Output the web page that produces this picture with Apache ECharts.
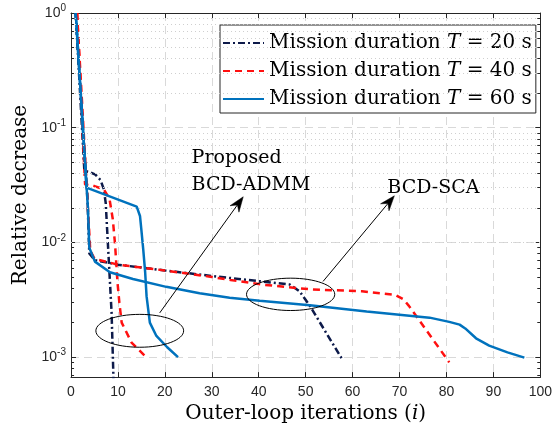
<!DOCTYPE html>
<html><head><meta charset="utf-8">
<script src="https://cdn.jsdelivr.net/npm/echarts@6/dist/echarts.min.js"></script>
<style>html,body{margin:0;padding:0;background:#fff}#c{width:555px;height:429px}</style>
</head><body><div id="c"></div>
<script>
// ---------------- data ----------------
const xTickValues = [0,10,20,30,40,50,60,70,80,90,100];
const yDecades = [0.001, 0.01, 0.1, 1];

// T = 20 s, proposed BCD-ADMM
const t20AdmmX = [1, 2.85, 4, 5.2, 6.3, 7.0, 7.4, 7.9, 8.65, 9.05];
const t20AdmmY = [1, 0.042, 0.041, 0.039, 0.035, 0.029, 0.022, 0.0091, 0.00244, 0.00065];
// T = 20 s, BCD-SCA
const t20ScaX = [1, 3.5, 3.9, 5.1, 10, 20, 30, 40, 46.6, 48.7, 50.9, 57.9];
const t20ScaY = [1, 0.025, 0.008, 0.0070, 0.0064, 0.0057, 0.0051, 0.0046, 0.0043, 0.00375, 0.0028, 0.00094];
// T = 40 s, proposed BCD-ADMM
const t40AdmmX = [1.3, 3.0, 5.0, 7.0, 8.2, 8.9, 9.4, 9.9, 10.3, 10.8, 12.9, 16.0];
const t40AdmmY = [1, 0.032, 0.031, 0.029, 0.024, 0.016, 0.0095, 0.0045, 0.0030, 0.0020, 0.00134, 0.0010];
// T = 40 s, BCD-SCA
const t40ScaX = [1.3, 3.6, 4.1, 5.0, 10, 20, 30, 34, 41, 51, 62, 69, 70.8, 72, 80.6];
const t40ScaY = [1, 0.02, 0.0085, 0.0072, 0.0064, 0.0057, 0.0050, 0.0047, 0.00428, 0.0039, 0.00375, 0.0035, 0.0032, 0.0028, 0.0009];
// T = 60 s, proposed BCD-ADMM
const t60AdmmX = [1, 3.3, 14.0, 14.7, 15.0, 15.4, 15.8, 16.1, 16.8, 18.2, 20.5, 22.8];
const t60AdmmY = [1, 0.030, 0.0205, 0.017, 0.0128, 0.0086, 0.0055, 0.0034, 0.0020, 0.00153, 0.00122, 0.0010];
// T = 60 s, BCD-SCA
const t60ScaX = [1, 3.6, 3.9, 5.1, 8.3, 13.2, 20.3, 27.4, 33.8, 40.2, 50.9, 63, 76.4, 80.6, 82.8, 84, 86.3, 89.1, 93, 96.6];
const t60ScaY = [1, 0.02, 0.009, 0.0068, 0.0055, 0.0048, 0.0041, 0.0036, 0.0033, 0.0031, 0.00283, 0.0025, 0.00221, 0.00203, 0.00192, 0.00178, 0.00146, 0.00126, 0.0011, 0.00099];

const durations = ['20', '40', '60'];
const seriesNames = ['T20', 'T40', 'T60'];

// annotations (data coordinates)
const annotEllipses = [
  {x0: 5.3, x1: 24.0, y0: 0.00122, y1: 0.00236},
  {x0: 37.4, x1: 56.2, y0: 0.00255, y1: 0.00488}
];
const annotArrows = [
  {from: [18.9, 0.00243], to: [36.7, 0.025]},
  {from: [53.7, 0.00457], to: [68.9, 0.0255]}
];
const annotTexts = [
  {x: 25.7, y: 0.0545, text: 'Proposed'},
  {x: 25.7, y: 0.0315, text: 'BCD-ADMM'},
  {x: 67.4, y: 0.030, text: 'BCD-SCA'}
];

// ---------------- chart ----------------
const zip = (xs, ys) => xs.map((x, i) => [x, ys[i]]);
const NAVY = '#0d1a4a', RED = '#ff1010', BLUE = '#0072bd';
const SERIF = '"DejaVu Serif", serif';
const SANS = '"Liberation Sans", Arial, sans-serif';
const AX = '#262626';
const YMIN = 0.00067, YMAX = 1;

// minor grid values 2..9 per decade
const minorVals = [];
for (let d = -4; d <= -1; d++) {
  for (let k = 2; k <= 9; k++) {
    const v = k * Math.pow(10, d);
    if (v > YMIN && v < YMAX) minorVals.push(+v.toPrecision(3));
  }
}

const lineSeries = (name, xs, ys, color, type) => ({
  name, type: 'line', xAxisIndex: 0, yAxisIndex: 0,
  data: zip(xs, ys), symbol: 'none', clip: true, z: 3,
  lineStyle: {color, width: 2.5, type},
  itemStyle: {color},
  animation: false
});
const DASHDOT = [7, 3, 2, 3];
const DASH = [7, 5];

const chart = echarts.init(document.getElementById('c'), null, {renderer: 'canvas'});
const option = {
  animation: false,
  backgroundColor: '#fff',
  grid: {left: 71, right: 14, top: 13, bottom: 47, containLabel: false},
  legend: {
    data: seriesNames,
    orient: 'vertical', left: 220, top: 25,
    padding: [8, 4, 4, 2], itemWidth: 41, itemHeight: 14, itemGap: 8,
    borderColor: AX, borderWidth: 1, backgroundColor: '#fff',
    selectedMode: false,
    itemStyle: {opacity: 0, borderWidth: 0},
    formatter: name => {
      const d = durations[seriesNames.indexOf(name)];
      return '{n|Mission duration }{t|T}{n| = ' + d + ' s}';
    },
    textStyle: {
      fontFamily: SERIF, fontSize: 20, color: '#000', lineHeight: 20,
      rich: {
        n: {fontFamily: SERIF, fontSize: 20, color: '#000'},
        t: {fontFamily: SERIF, fontSize: 20, fontStyle: 'italic', color: '#000'}
      }
    }
  },
  xAxis: [{
    type: 'value', min: 0, max: 100, interval: 10, position: 'bottom',
    name: '{n|Outer-loop iterations (}{i|i}{n|)}', nameLocation: 'middle', nameGap: 18,
    nameTextStyle: {
      rich: {
        n: {fontFamily: SERIF, fontSize: 20, color: '#000'},
        i: {fontFamily: SERIF, fontSize: 20, fontStyle: 'italic', color: '#000'}
      }
    },
    axisLine: {show: true, onZero: false, lineStyle: {color: AX, width: 1}},
    axisTick: {show: true, inside: true, length: 5, lineStyle: {color: AX}},
    axisLabel: {fontFamily: SANS, fontSize: 14, color: AX, margin: 8},
    splitLine: {show: true, lineStyle: {color: '#d9d9d9', type: [8, 5], width: 1}}
  }, {
    type: 'value', min: 0, max: 100, interval: 10, position: 'top',
    axisLine: {show: true, onZero: false, lineStyle: {color: AX, width: 1}},
    axisTick: {show: true, inside: true, length: 5, lineStyle: {color: AX}},
    axisLabel: {show: false}, splitLine: {show: false}
  }],
  yAxis: [{
    type: 'log', logBase: 10, min: YMIN, max: YMAX, position: 'left',
    name: 'Relative decrease', nameLocation: 'middle', nameGap: 38, nameRotate: 90,
    nameTextStyle: {fontFamily: SERIF, fontSize: 20, color: '#000'},
    axisLine: {show: true, onZero: false, lineStyle: {color: AX, width: 1}},
    axisTick: {show: true, inside: true, length: 5, lineStyle: {color: AX}},
    axisLabel: {
      margin: 5,
      formatter: v => {
        const l = Math.log10(v), e = Math.round(l);
        if (Math.abs(l - e) > 1e-6) return '';
        return '{b|10}{s|' + e + '}';
      },
      rich: {
        b: {fontFamily: SANS, fontSize: 14, color: AX},
        s: {fontFamily: SANS, fontSize: 10, color: AX, padding: [0, 0, 9, 0]}
      }
    },
    splitLine: {show: true, lineStyle: {color: '#d9d9d9', type: [8, 5], width: 1}}
  }, {
    type: 'log', logBase: 10, min: YMIN, max: YMAX, position: 'right',
    axisLine: {show: true, onZero: false, lineStyle: {color: AX, width: 1}},
    axisTick: {show: true, inside: true, length: 5, lineStyle: {color: AX}},
    axisLabel: {show: false}, splitLine: {show: false}
  }],
  series: [
    {
      name: 'minor-grid', type: 'line', xAxisIndex: 0, yAxisIndex: 0, z: 1,
      data: [[50, 0.5]], symbol: 'none', showSymbol: false, silent: true, animation: false,
      lineStyle: {opacity: 0}, itemStyle: {opacity: 0},
      markLine: {
        silent: true, symbol: ['none', 'none'], label: {show: false}, animation: false,
        lineStyle: {color: '#cfcfcf', type: [1, 3], width: 1},
        emphasis: {disabled: true},
        data: minorVals.map(v => ({yAxis: v}))
      }
    },
    {
      name: 'minor-ticks', type: 'line', xAxisIndex: 0, yAxisIndex: 0, z: 2,
      data: [[50, 0.5]], symbol: 'none', showSymbol: false, silent: true, animation: false,
      lineStyle: {opacity: 0}, itemStyle: {opacity: 0},
      markLine: {
        silent: true, symbol: ['none', 'none'], label: {show: false}, animation: false,
        lineStyle: {color: AX, type: 'solid', width: 1},
        emphasis: {disabled: true},
        data: minorVals.flatMap(v => [
          [{coord: [0, v]}, {coord: [0.65, v]}],
          [{coord: [99.35, v]}, {coord: [100, v]}]
        ])
      }
    },
    lineSeries('T20', t20AdmmX, t20AdmmY, NAVY, DASHDOT),
    lineSeries('T20', t20ScaX, t20ScaY, NAVY, DASHDOT),
    lineSeries('T40', t40AdmmX, t40AdmmY, RED, DASH),
    lineSeries('T40', t40ScaX, t40ScaY, RED, DASH),
    lineSeries('T60', t60AdmmX, t60AdmmY, BLUE, 'solid'),
    lineSeries('T60', t60ScaX, t60ScaY, BLUE, 'solid')
  ]
};
chart.setOption(option);

function drawAnnotations() {
  const px = p => chart.convertToPixel({xAxisIndex: 0, yAxisIndex: 0}, p);
  const els = [];
  annotEllipses.forEach(e => {
    const a = px([e.x0, e.y0]), b = px([e.x1, e.y1]);
    els.push({
      type: 'ellipse', z: 100, silent: true,
      shape: {cx: (a[0] + b[0]) / 2, cy: (a[1] + b[1]) / 2, rx: Math.abs(b[0] - a[0]) / 2, ry: Math.abs(b[1] - a[1]) / 2},
      style: {fill: 'none', stroke: '#000', lineWidth: 1}
    });
  });
  annotArrows.forEach(ar => {
    const a = px(ar.from), b = px(ar.to);
    const ang = Math.atan2(b[1] - a[1], b[0] - a[0]);
    const L = 15, W = 5.5, N = 10;
    const cos = Math.cos(ang), sin = Math.sin(ang);
    const back = [b[0] - L * cos, b[1] - L * sin];
    const notch = [b[0] - N * cos, b[1] - N * sin];
    const p1 = [back[0] - W * sin, back[1] + W * cos];
    const p2 = [back[0] + W * sin, back[1] - W * cos];
    els.push({
      type: 'line', z: 100, silent: true,
      shape: {x1: a[0], y1: a[1], x2: notch[0], y2: notch[1]},
      style: {stroke: '#000', lineWidth: 1}
    });
    els.push({
      type: 'polygon', z: 100, silent: true,
      shape: {points: [b, p1, notch, p2]},
      style: {fill: '#000', stroke: '#000', lineWidth: 0.5}
    });
  });
  annotTexts.forEach(t => {
    const p = px([t.x, t.y]);
    els.push({
      type: 'text', z: 100, silent: true, x: p[0], y: p[1],
      style: {text: t.text, font: '19px ' + SERIF, fill: '#000', align: 'left', verticalAlign: 'middle'}
    });
  });
  chart.setOption({graphic: els});
}
drawAnnotations();
</script>
</body></html>
